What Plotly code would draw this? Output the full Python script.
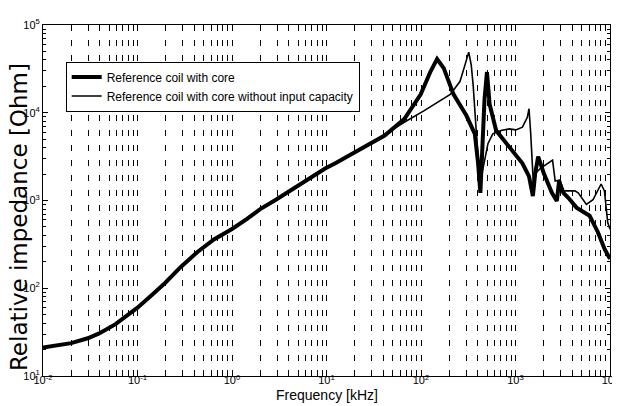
import plotly.graph_objects as go

# Frequency in kHz, impedance in Ohm
freq_core = [0.01, 0.0139, 0.0199, 0.0297, 0.0393, 0.0586, 0.0805, 0.1, 0.141, 0.1945, 0.289, 0.431,
             0.644, 1.0, 1.43, 1.97, 2.94, 4.05, 6.54, 9.77, 12.4,
             20.0, 41.2, 66.5, 99.3, 126, 148, 174, 221, 303, 371, 402, 425, 448, 470, 499, 532, 624,
             859, 1183, 1390, 1528, 1616, 1738, 1992, 2427, 2738, 2891, 3214, 3622, 4426, 5395, 6084,
             7447, 8730, 10000]
imp_core = [21.1, 22.3, 23.7, 26.9, 30.6, 39.0, 50.5, 60.0, 83.2, 114, 176, 259,
            360, 473, 613, 794, 1028, 1276, 1800, 2328, 2652,
            3589, 5508, 8480, 16180, 29520, 41000, 32250, 16180, 9230, 5755, 2652, 1222, 4446, 14220, 29100, 12500, 6270,
            4083, 2652, 1880, 1122, 2048, 3155, 2048, 1222, 986, 1660, 1222, 1074, 830, 729, 670,
            435, 282, 216]

freq_nocap = [0.01, 0.0139, 0.0199, 0.0297, 0.0393, 0.0586, 0.0805, 0.1, 0.141, 0.1945, 0.289, 0.431,
              0.644, 1.0, 1.43, 1.97, 2.94, 4.05, 6.54, 9.77, 12.4,
              20.0, 32.4, 66.5, 107, 204, 259, 292, 320, 340, 356, 386, 412, 425, 443, 472, 511, 575,
              703, 859, 1007, 1183, 1334, 1390, 1449, 1560, 1636, 1837, 2333, 2466, 2630, 2963, 3214,
              4246, 4610, 5623, 6607, 8054, 8730, 9462, 10000]
imp_nocap = [21.1, 22.3, 23.7, 26.9, 30.6, 39.0, 50.5, 60.0, 83.2, 114, 176, 259,
             360, 473, 613, 794, 1028, 1276, 1800, 2328, 2652,
             3580, 4808, 7786, 10510, 16180, 22810, 35130, 49100, 35130, 20950, 5755, 2455, 1330, 2048, 2890, 4446, 5755,
             6270, 6550, 6380, 6840, 8860, 11120, 5755, 1286, 2048, 2328, 2772, 2890, 1667, 1710, 1286,
             1286, 1222, 903, 1019, 1542, 1286, 562, 470]

x_tick_vals = [0.01, 0.1, 1, 10, 100, 1000, 10000]
x_tick_text = ["10<sup>-2</sup>", "10<sup>-1</sup>", "10<sup>0</sup>", "10<sup>1</sup>",
               "10<sup>2</sup>", "10<sup>3</sup>", "10<sup>4</sup>"]
y_tick_vals = [10, 100, 1000, 10000, 100000]
y_tick_text = ["10<sup>1</sup>", "10<sup>2</sup>", "10<sup>3</sup>", "10<sup>4</sup>", "10<sup>5</sup>"]

series_names = ["Reference coil with core", "Reference coil with core without input capacity"]
x_title = "Frequency [kHz]"
y_title = "Relative impedance [Ohm]"

SANS = "Liberation Sans, Arial, sans-serif"

x_minor = [m * 10 ** k for k in range(-2, 4) for m in range(2, 10)]
y_minor = [m * 10 ** k for k in range(1, 5) for m in range(2, 10)]

fig = go.Figure()
fig.add_trace(go.Scatter(x=freq_core, y=imp_core, mode="lines", name=series_names[0],
                         line=dict(color="black", width=4)))
fig.add_trace(go.Scatter(x=freq_nocap, y=imp_nocap, mode="lines", name=series_names[1],
                         line=dict(color="black", width=1.6)))

grid_dash = "6px,9px"
# the page body offsets the figure by 8px, so the margins compensate for it
fig.update_layout(
    width=620, height=406,
    margin=dict(l=35, r=9, t=12, b=38),
    paper_bgcolor="white", plot_bgcolor="white",
    showlegend=True,
    legend=dict(x=0.04, y=0.896, xanchor="left", yanchor="top",
                bgcolor="white", bordercolor="black", borderwidth=1,
                font=dict(family=SANS, size=12, color="black"),
                itemwidth=30, tracegroupgap=0),
    xaxis=dict(type="log", range=[-2, 4],
               tickmode="array", tickvals=x_tick_vals, ticktext=x_tick_text,
               ticks="inside", ticklen=5, tickcolor="black", ticklabelstandoff=-6,
               showline=True, linecolor="black", linewidth=1, mirror="ticks",
               showgrid=True, gridcolor="black", gridwidth=1, griddash=grid_dash,
               zeroline=False,
               tickfont=dict(family=SANS, size=11, color="black"),
               minor=dict(tickmode="array", tickvals=x_minor, ticks="inside", ticklen=3,
                          tickcolor="black", showgrid=True, gridcolor="black", gridwidth=1,
                          griddash=grid_dash)),
    yaxis=dict(type="log", range=[1, 5],
               tickmode="array", tickvals=y_tick_vals, ticktext=y_tick_text,
               ticks="inside", ticklen=5, tickcolor="black",
               showline=True, linecolor="black", linewidth=1, mirror="ticks",
               showgrid=False, zeroline=False,
               tickfont=dict(family=SANS, size=11, color="black"),
               minor=dict(tickmode="array", tickvals=y_minor, ticks="inside", ticklen=3,
                          tickcolor="black", showgrid=False)),
    annotations=[
        dict(text=y_title, xref="paper", yref="paper", x=-0.041, y=0.452,
             xanchor="center", yanchor="middle", textangle=-90, showarrow=False,
             font=dict(family="DejaVu Sans", size=23, color="black")),
        dict(text=x_title, xref="paper", yref="paper", x=0.5, y=-0.083,
             xanchor="center", yanchor="bottom", showarrow=False,
             font=dict(family=SANS, size=14, color="black")),
    ],
)

fig.write_html("out.html")
